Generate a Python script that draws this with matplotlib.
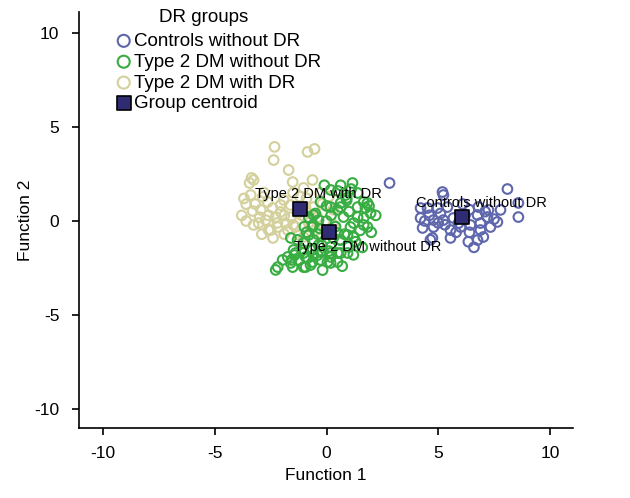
import numpy as np
import matplotlib.pyplot as plt

plt.rcParams['font.family'] = ['Liberation Sans', 'DejaVu Sans']
plt.rcParams['axes.unicode_minus'] = False

# discriminant scores (Function 1, Function 2)
ctrl_x = [5.19, 5.23, 4.21, 4.52, 4.97, 5.41, 6.80, 7.25, 7.79, 8.59, 4.21, 4.79, 5.23, 5.68,
          6.76, 7.20, 7.65, 8.59, 4.30, 4.79, 5.55, 6.00, 6.44, 6.89, 7.34, 5.55, 6.89, 6.76,
          7.02, 4.74, 5.91, 2.82, 6.20, 6.40, 5.80, 5.10, 4.60, 6.40, 6.35, 6.60, 4.65, 8.10,
          5.00, 7.50, 4.40, 6.10, 5.30, 7.10]
ctrl_y = [1.54, 1.38, 0.69, 0.69, 0.69, 0.74, 0.74, 0.59, 0.59, 0.96, 0.16, 0.05, 0.05, 0.16,
          0.32, 0.21, -0.05, 0.21, -0.37, -0.32, -0.48, -0.32, -0.21, -0.11, -0.32, -0.90, -0.48, -1.01,
          -0.85, -0.90, -0.11, 2.02, 0.30, 0.60, -0.60, 0.40, 0.30, -0.60, -1.10, -1.40, -1.00, 1.70,
          -0.10, 0.10, 0.00, 0.90, -0.20, 0.50]

dr_x = [-2.33, -0.85, -0.54, -2.37, -1.70, -3.36, -3.27, -3.45, -1.52, -0.63, -1.03,
        -3.31, -2.95, -2.42, -2.06, -2.28, -2.73, -3.04, -3.27, -2.19, -1.83, -1.74, -1.39,
        -1.25, -1.03, -2.60, -1.61, -2.06, -2.64, -1.92, -0.94, -0.58, -0.72, -0.49, -2.50,
        -0.20, 0.10, -0.30, -1.20, -2.80, -3.60, -3.80, -1.50, -0.90, -0.40, 0.30, -1.60,
        -1.10, -2.40, -1.90, -3.00, -0.20, 0.30, -3.40, -2.86,
        -3.60, -3.20, -2.60, -2.20, -1.50, -1.30, -0.80, -2.90, -1.90, -3.70]
dr_y = [3.94, 3.67, 3.83, 3.24, 2.71, 2.29, 2.18, 2.02, 2.07, 2.18, 1.76,
        0.53, 0.59, 0.69, 0.48, 0.21, 0.05, -0.11, -0.21, -0.32, -0.11, -0.48, -0.32,
        -0.74, -0.85, -0.48, 0.85, 0.85, 1.01, 1.12, 0.69, 0.74, -0.32, -0.48, -0.48,
        0.90, 1.30, 1.50, 1.30, 1.50, 0.90, 0.30, 1.50, 1.20, 0.20, -0.20, 0.20,
        0.30, -0.90, -0.70, 0.20, -0.80, 0.60, 1.38, 1.28,
        0.00, 0.90, 0.30, -0.10, -0.20, 0.40, -0.10, -0.70, 0.30, 1.20]

nodr_x = [1.16, 1.39, 0.85, 1.66, 1.74, -0.27, 0.63, 0.49, 0.76, 1.39, 1.66, 1.83, 1.07,
          0.49, 1.21, -0.58, -1.03, -1.39, -0.94, -0.40, 0.18, 0.63, 0.04, 0.49, -0.72,
          -2.19, -1.61, 0.18, -0.36, 0.98, -1.97, -1.74, -2.28, -1.52, -1.03, -0.85, -0.58,
          -0.63, -1.07, -1.48, -1.25, 0.18, 0.63, 0.00, -0.30, 0.40, -0.60, 0.80, -0.20,
          0.60, 1.50, 1.00, -0.50, 0.20, -1.00, -0.80, 1.30, 0.30, -0.40, 2.20, 2.00,
          1.60, -1.30, 0.00, 0.90, 1.90, -0.10, 0.50, -1.60, 0.70, 1.20, -0.90, 0.10,
          1.10, 0.90, 0.18, 0.63, 1.39, 1.83, 1.97, 1.66, 1.21, -0.58, -0.36, -0.63,
          -0.80, 0.94, 1.21, 0.63, 0.94, 0.49, 0.18, -0.27, -0.63, -1.03, -1.43, -1.57,
          -0.27, 0.18, -0.94, -0.18]
nodr_y = [2.02, 1.49, 1.38, 1.01, 0.69, 1.01, 0.96, 0.59, 0.21, 0.21, 0.16, -0.32, -0.32,
          -0.64, -0.85, -1.01, -1.17, -1.70, -1.91, -1.81, -1.70, -1.70, -2.18, -2.18, -2.34,
          -2.45, -2.23, -1.38, -1.28, -1.38, -2.07, -1.91, -2.60, -2.45, -2.45, -1.97, -1.81,
          -2.18, -1.54, -1.54, -2.07, 1.65, 1.90, 0.00, -0.40, -0.30, -0.20, -0.70, -1.30,
          -1.00, -0.50, 0.50, 0.40, 0.30, -0.30, 0.20, -1.10, -0.90, -0.70, 0.30, -0.60,
          -1.40, -1.00, 0.80, 1.10, 0.80, 1.90, 1.60, -0.90, -2.40, -1.80, -0.60, -1.60,
          1.70, 1.22, 0.74, 0.74, 0.74, 0.96, 0.42, -0.21, -0.11, 0.32, 0.05, -0.32,
          -0.74, -0.74, -0.85, -1.01, -1.70, -1.70, -1.91, -1.65, -1.54, -1.70, -1.81, -2.07,
          -2.07, -2.23, -2.45, -2.61]

group_names = ['Controls without DR', 'Type 2 DM without DR', 'Type 2 DM with DR']
centroid_x = [6.08, 0.13, -1.21]
centroid_y = [0.20, -0.60, 0.64]
# where the centroid names sit
label_x = [6.93, 1.85, -0.36]
label_y = [0.96, -1.38, 1.44]

fig = plt.figure(figsize=(6.3, 4.98), dpi=100)
ax = fig.add_axes([0.125, 0.1406, 0.785, 0.835])

ms = 48
lw = 1.5
ax.scatter(ctrl_x, ctrl_y, s=ms, facecolors='none', edgecolors='#5e66ac', linewidths=lw,
           label=group_names[0], zorder=2)
ax.scatter(dr_x, dr_y, s=ms, facecolors='none', edgecolors='#d4d09c', linewidths=lw,
           label=group_names[2], zorder=2)
ax.scatter(nodr_x, nodr_y, s=ms, facecolors='none', edgecolors='#38ad42', linewidths=lw,
           label=group_names[1], zorder=3)
ax.scatter(centroid_x, centroid_y, s=115, marker='s', facecolors='#302c74', edgecolors='black',
           linewidths=1.2, label='Group centroid', zorder=4)

for name, lx, ly in zip(group_names, label_x, label_y):
    ax.text(lx, ly, name, ha='center', va='center', fontsize=10.5, zorder=5)

ax.set_xlim(-11.1, 11.05)
ax.set_ylim(-11.0, 11.1)
ax.set_xticks([-10, -5, 0, 5, 10])
ax.set_yticks([-10, -5, 0, 5, 10])
ax.tick_params(labelsize=12.5, direction='out', length=5, width=1.2)
ax.tick_params(axis='y', pad=9)
ax.tick_params(axis='x', pad=8)
ax.spines['top'].set_visible(False)
ax.spines['right'].set_visible(False)
ax.spines['left'].set_linewidth(1.2)
ax.spines['bottom'].set_linewidth(1.2)
ax.set_xlabel('Function 1', fontsize=12.5, labelpad=5)
ax.set_ylabel('Function 2', fontsize=12.5, labelpad=1)

handles, labels = ax.get_legend_handles_labels()
order = [labels.index(n) for n in group_names + ['Group centroid']]
fig.text(204 / 630, 1 - 17 / 498, 'DR groups', ha='center', va='center', fontsize=13.5)
leg = ax.legend([handles[i] for i in order], [labels[i] for i in order],
                loc='upper left', bbox_to_anchor=(0.18, 0.942, 0, 0), bbox_transform=fig.transFigure,
                frameon=False, fontsize=13.5, handlelength=0.7,
                handletextpad=0.2, labelspacing=0.2, borderaxespad=0, borderpad=0.2)
for h in leg.legend_handles[:3]:
    h.set_sizes([75])
leg.legend_handles[3].set_sizes([110])

plt.savefig('out.png', dpi=100)
plt.close()
